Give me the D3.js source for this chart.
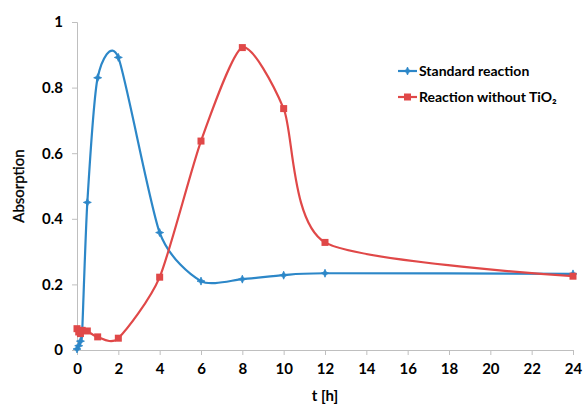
<!DOCTYPE html>
<html>
<head>
<meta charset="utf-8">
<script src="https://cdn.jsdelivr.net/npm/d3@7"></script>
<style>
  body { margin: 0; background: #fff; }
  text { font-family: Lato, "Open Sans", sans-serif; fill: #000; }
</style>
</head>
<body>
<div id="chart"></div>
<script>
// Data
const hours = [0, 0.083, 0.167, 0.25, 0.5, 1, 2, 4, 6, 8, 10, 12, 24];
const standard = [0.003, 0.013, 0.027, 0.055, 0.45, 0.83, 0.892, 0.358, 0.21, 0.216, 0.228, 0.234, 0.232];
const withoutTiO2 = [0.065, 0.055, 0.05, 0.06, 0.058, 0.04, 0.036, 0.222, 0.637, 0.922, 0.736, 0.328, 0.225];
const xTicks = d3.range(0, 25, 2);
const yTicks = [0, 0.2, 0.4, 0.6, 0.8, 1];

const W = 583, H = 405;
const svg = d3.select("#chart").append("svg")
    .attr("width", W)
    .attr("height", H);

// Scales
const x = d3.scaleLinear().domain([0, 24]).range([77, 573]);
const y = d3.scaleLinear().domain([0, 1]).range([350, 22]);

const axisColor = "#bfbfbf";

// X axis
const gx = svg.append("g")
    .attr("transform", `translate(0,${y(0)})`)
    .call(d3.axisBottom(x).tickValues(xTicks).tickSize(5).tickPadding(8).tickFormat(d3.format("d")));
gx.select(".domain").attr("stroke", axisColor);
gx.selectAll(".tick line").attr("stroke", axisColor);
gx.selectAll(".tick text")
    .style("font-size", "15px").style("font-weight", "bold");

// Y axis
const gy = svg.append("g")
    .attr("transform", `translate(${x(0)},0)`)
    .call(d3.axisLeft(y).tickValues(yTicks).tickSize(5).tickPadding(9).tickFormat(d => d === 0 || d === 1 ? d : d.toFixed(1)));
gy.select(".domain").attr("stroke", axisColor);
gy.selectAll(".tick line").attr("stroke", axisColor);
gy.selectAll(".tick text")
    .style("font-size", "15px").style("font-weight", "bold");

// Axis titles
svg.append("text")
    .attr("x", (x(0) + x(24)) / 2)
    .attr("y", 401)
    .attr("text-anchor", "middle")
    .style("font-size", "15px").style("font-weight", "bold")
    .text("t [h]");

svg.append("text")
    .attr("transform", `translate(24,${(y(0) + y(1)) / 2}) rotate(-90)`)
    .attr("text-anchor", "middle")
    .style("font-size", "15px")
    .style("stroke", "#000").style("stroke-width", 0.3)
    .text("Absorption");

// Series
const series = [
    { name: "Standard reaction", values: standard, color: "#2c87c8", marker: "star" },
    { name: "Reaction without TiO₂", values: withoutTiO2, color: "#e04848", marker: "square" }
];

// smoothed line, a bit of tension so the peaks don't overshoot
const line = d3.line()
    .x(d => x(d[0]))
    .y(d => y(d[1]))
    .curve(d3.curveCardinal.tension(0.3));

function drawMarker(g, type, color) {
    if (type === "square") {
        g.append("rect")
            .attr("x", -3.5).attr("y", -3.5)
            .attr("width", 7).attr("height", 7)
            .attr("fill", color);
    } else {
        g.append("path")
            .attr("d", "M0,-4 L1.2,-1.2 L4,0 L1.2,1.2 L0,4 L-1.2,1.2 L-4,0 L-1.2,-1.2 Z")
            .attr("fill", color)
            .attr("stroke", color)
            .attr("stroke-width", 0.8);
    }
}

series.forEach(s => {
    const pts = hours.map((h, i) => [h, s.values[i]]);
    svg.append("path")
        .datum(pts)
        .attr("fill", "none")
        .attr("stroke", s.color)
        .attr("stroke-width", 2.2)
        .attr("d", line);

    pts.forEach(p => {
        const g = svg.append("g").attr("transform", `translate(${x(p[0])},${y(p[1])})`);
        drawMarker(g, s.marker, s.color);
    });
});

// Legend
const legend = svg.append("g");
series.forEach((s, i) => {
    const ly = 71 + i * 26;
    legend.append("line")
        .attr("x1", 398).attr("x2", 417)
        .attr("y1", ly).attr("y2", ly)
        .attr("stroke", s.color)
        .attr("stroke-width", 2.2);
    const g = legend.append("g").attr("transform", `translate(407.5,${ly})`);
    drawMarker(g, s.marker, s.color);
    legend.append("text")
        .attr("x", 419)
        .attr("y", ly + 5)
        .style("font-size", "14px").style("font-weight", "bold")
        .text(s.name);
});
</script>
</body>
</html>
